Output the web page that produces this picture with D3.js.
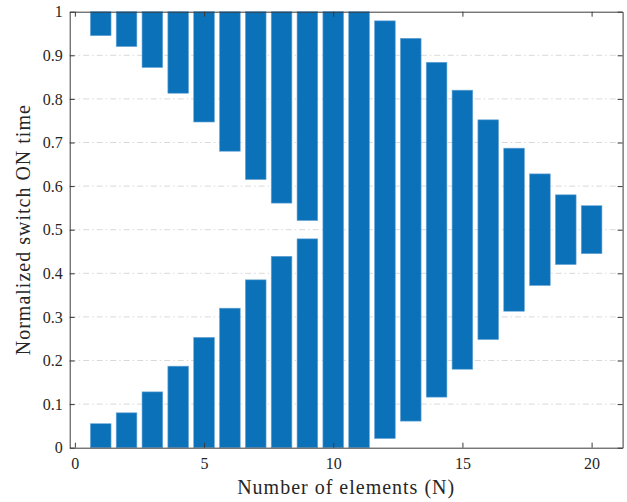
<!DOCTYPE html>
<html>
<head>
<meta charset="utf-8">
<script src="https://cdn.jsdelivr.net/npm/d3@7"></script>
<style>
html,body{margin:0;padding:0;background:#fff;}
svg{display:block;}
</style>
</head>
<body>
<svg id="chart" width="627" height="502"></svg>
<script>
// Number of elements
const elements = [1,2,3,4,5,6,7,8,9,10,11,12,13,14,15,16,17,18,19,20];
// first ON interval (start, end) per N
const onStart1 = [0,0,0,0,0,0,0,0,0,0,0,0.021,0.061,0.116,0.180,0.248,0.313,0.372,0.420,0.445];
const onEnd1   = [0.055,0.080,0.128,0.187,0.253,0.320,0.385,0.439,0.479,1,1,0.979,0.939,0.884,0.820,0.752,0.687,0.628,0.580,0.555];
// second ON interval (start, end) per N (null = none)
const onStart2 = [0.945,0.920,0.872,0.813,0.747,0.680,0.615,0.561,0.521,null,null,null,null,null,null,null,null,null,null,null];
const onEnd2   = [1,1,1,1,1,1,1,1,1,null,null,null,null,null,null,null,null,null,null,null];
const xTicks = [0,5,10,15,20];
const yTicks = [0,0.1,0.2,0.3,0.4,0.5,0.6,0.7,0.8,0.9,1];
const yTickLabels = ["0","0.1","0.2","0.3","0.4","0.5","0.6","0.7","0.8","0.9","1"];

const svg = d3.select("#chart");
const L = 69.7, R = 622.6, T = 11.7, B = 447.7;
const x = d3.scaleLinear().domain([-0.2, 21.2]).range([L, R]);
const y = d3.scaleLinear().domain([0, 1]).range([B, T]);
const font = "'Liberation Serif','Times New Roman',serif";
const textCol = "#262626";
const axisCol = "#3a3a3a";

// grid (dash-dot)
svg.append("g").selectAll("line").data(yTicks.slice(1, -1)).join("line")
  .attr("x1", L).attr("x2", R)
  .attr("y1", d => y(d)).attr("y2", d => y(d))
  .attr("stroke", "#d9d9d9").attr("stroke-width", 1)
  .attr("stroke-dasharray", "6,3,1.5,3");

// bars
const segs = [];
elements.forEach((n, i) => {
  segs.push({n, a: onStart1[i], b: onEnd1[i]});
  if (onStart2[i] !== null) segs.push({n, a: onStart2[i], b: onEnd2[i]});
});
const bw = 0.8;
svg.append("g").selectAll("rect").data(segs).join("rect")
  .attr("x", d => x(d.n - bw / 2))
  .attr("width", d => x(d.n + bw / 2) - x(d.n - bw / 2))
  .attr("y", d => y(d.b))
  .attr("height", d => y(d.a) - y(d.b))
  .attr("fill", "#0b72ba")
  .attr("stroke", "#6aa6d6").attr("stroke-width", 0.6);

// axes
const xAxisB = d3.axisBottom(x).tickValues(xTicks).tickSizeInner(-5).tickSizeOuter(0).tickPadding(10).tickFormat(d3.format("d"));
const xAxisT = d3.axisTop(x).tickValues(xTicks).tickSizeInner(-5).tickSizeOuter(0).tickFormat("");
const yAxisL = d3.axisLeft(y).tickValues(yTicks).tickSizeInner(-5).tickSizeOuter(0).tickPadding(7).tickFormat((d, i) => yTickLabels[i]);
const yAxisR = d3.axisRight(y).tickValues(yTicks).tickSizeInner(-5).tickSizeOuter(0).tickFormat("");

function style(g) {
  g.select(".domain").attr("stroke", axisCol).attr("stroke-width", 1);
  g.selectAll(".tick line").attr("stroke", axisCol).attr("stroke-width", 1);
  g.selectAll(".tick text").attr("fill", textCol).style("font-family", font).style("font-size", "16px");
}
svg.append("g").attr("transform", `translate(0,${B})`).call(xAxisB).call(style);
svg.append("g").attr("transform", `translate(0,${T})`).call(xAxisT).call(style);
svg.append("g").attr("transform", `translate(${L},0)`).call(yAxisL).call(style);
svg.append("g").attr("transform", `translate(${R},0)`).call(yAxisR).call(style);

// labels
svg.append("text").attr("x", (L + R) / 2).attr("y", 494)
  .attr("text-anchor", "middle").attr("fill", textCol)
  .style("font-family", font).style("font-size", "20px").style("letter-spacing", "1px")
  .text("Number of elements (N)");
svg.append("text").attr("transform", `translate(30,${(T + B) / 2}) rotate(-90)`)
  .attr("text-anchor", "middle").attr("fill", textCol)
  .style("font-family", font).style("font-size", "20px").style("letter-spacing", "1px")
  .text("Normalized switch ON time");
</script>
</body>
</html>
